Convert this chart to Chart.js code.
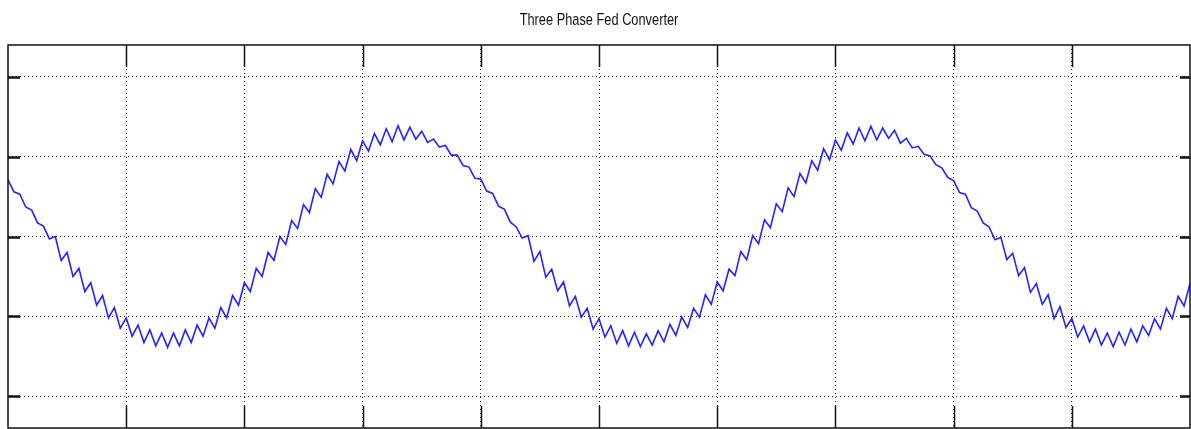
<!DOCTYPE html>
<html>
<head>
<meta charset="utf-8">
<script src="https://cdn.jsdelivr.net/npm/chart.js@4"></script>
<style>
  html, body { margin: 0; padding: 0; background: #fff; }
  #wrap { width: 1191px; height: 429px; }
</style>
</head>
<body>
<div id="wrap"><canvas id="scope"></canvas></div>
<script>
const chartTitle = 'Three Phase Fed Converter';

// time axis (ms): one sample every 0.25 ms, 0..50 ms
const tStart = 0;
const tStep = 0.25;
const xTicks = [5, 10, 15, 20, 25, 30, 35, 40, 45];
const yTicks = [-200, -100, 0, 100, 200];

// output voltage (ripple tops / bottoms)
const volts = [
  71,
  56, 53, 37, 33, 17, 13, -3,
  0, -30, -20, -50, -40, -69, -58, -86, -74, -102, -89, -115,
  -102, -125, -111, -133, -117, -137, -121, -139, -121, -137, -117, -133, -111, -125, -102,
  -115, -89, -102, -74, -86, -58, -69, -40, -50, -20, -30, 0, -10, 20, 10, 40, 30, 60, 49, 78, 66, 94, 82, 109, 95,
  120, 107, 129, 115, 135, 119, 139, 121,
  137, 122, 132, 118, 122, 112, 114, 102, 102, 89, 87, 73, 72,
  57, 54, 38, 34, 18, 12, -2,
  1, -31, -19, -51, -41, -68, -57, -87, -75, -101, -90, -116,
  -103, -126, -112, -134, -118, -137, -120, -138, -122, -136, -118, -132, -110, -124, -101,
  -114, -90, -101, -73, -85, -57, -68, -41, -49, -19, -29, 1, -9, 21, 11, 41, 31, 61, 50, 79, 67, 95, 83, 110, 96,
  121, 108, 130, 116, 136, 120, 138, 121,
  136, 123, 133, 117, 123, 111, 113, 103, 101, 90, 86, 74, 70,
  55, 53, 36, 32, 17, 12, -4,
  -1, -29, -21, -49, -39, -70, -59, -85, -73, -103, -88, -114,
  -103, -126, -112, -132, -116, -136, -121, -138, -120, -136, -116, -132, -112, -124, -103,
  -116, -90, -103, -75, -87, -59
];

const points = volts.map((v, i) => ({ x: tStart + i * tStep, y: v }));

// MATLAB style frame with inward ticks + condensed title
const scopeFrame = {
  id: 'scopeFrame',
  afterDraw(chart) {
    const ctx = chart.ctx;
    const a = chart.chartArea;
    const xs = chart.scales.x, ys = chart.scales.y;
    ctx.save();
    ctx.strokeStyle = '#111';
    ctx.lineWidth = 1.5;
    ctx.strokeRect(a.left, a.top, a.right - a.left, a.bottom - a.top);
    ctx.beginPath();
    xTicks.forEach(t => {
      const px = Math.round(xs.getPixelForValue(t)) + 0.5;
      ctx.moveTo(px, a.top); ctx.lineTo(px, a.top + 22);
      ctx.moveTo(px, a.bottom); ctx.lineTo(px, a.bottom - 22);
    });
    ctx.stroke();
    ctx.lineWidth = 2.5;
    ctx.beginPath();
    yTicks.forEach(v => {
      const py = Math.round(ys.getPixelForValue(v)) + 0.5;
      ctx.moveTo(a.left, py); ctx.lineTo(a.left + 12, py);
      ctx.moveTo(a.right, py); ctx.lineTo(a.right - 10, py);
    });
    ctx.stroke();

    // title, squeezed like the narrow scope font
    ctx.translate((a.left + a.right) / 2, 20);
    ctx.scale(0.8, 1.05);
    ctx.fillStyle = '#111';
    ctx.font = "16px 'Liberation Sans', Arial, sans-serif";
    ctx.textAlign = 'center';
    ctx.textBaseline = 'middle';
    ctx.fillText(chartTitle, 0, 0);
    ctx.restore();
  }
};

new Chart(document.getElementById('scope'), {
  type: 'line',
  data: {
    datasets: [{
      label: 'Vout',
      data: points,
      borderColor: '#2424ff',
      borderWidth: 1.6,
      pointRadius: 0,
      tension: 0,
      fill: false
    }]
  },
  options: {
    responsive: true,
    maintainAspectRatio: false,
    animation: false,
    layout: { padding: { left: 8, right: 1, top: 45, bottom: 1 } },
    plugins: {
      legend: { display: false },
      tooltip: { enabled: false },
      title: { display: false }
    },
    scales: {
      x: {
        type: 'linear',
        min: 0,
        max: 50,
        afterBuildTicks: s => { s.ticks = xTicks.map(v => ({ value: v })); },
        ticks: { display: false },
        grid: { color: '#222', lineWidth: 1, drawTicks: false },
        border: { display: false, dash: [1, 3] }
      },
      y: {
        min: -240,
        max: 240,
        afterBuildTicks: s => { s.ticks = yTicks.map(v => ({ value: v })); },
        ticks: { display: false },
        grid: { color: '#222', lineWidth: 1, drawTicks: false },
        border: { display: false, dash: [1, 3] }
      }
    }
  },
  plugins: [scopeFrame]
});
</script>
</body>
</html>
